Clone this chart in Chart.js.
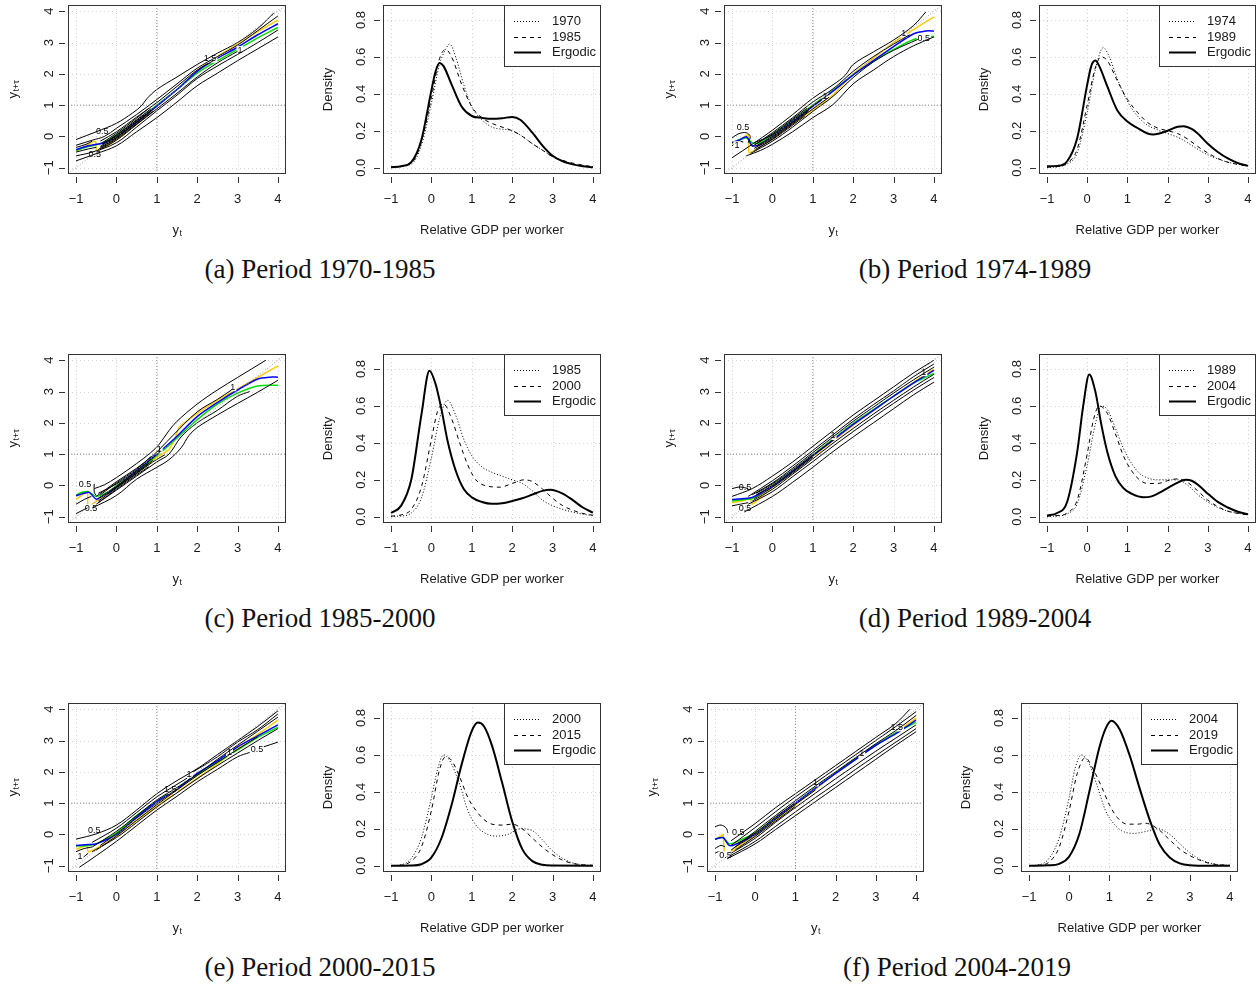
<!DOCTYPE html>
<html><head><meta charset="utf-8">
<script src="https://cdn.jsdelivr.net/npm/chart.js@4.4.1/dist/chart.umd.min.js"></script>
<style>
html,body{margin:0;padding:0;background:#fff;}
body{width:1258px;height:986px;position:relative;overflow:hidden;}
canvas{position:absolute;}
.cap{position:absolute;font-family:'Liberation Serif','Times New Roman',serif;font-size:27px;color:#111;white-space:nowrap;transform:translate(-50%,-50%);line-height:1;}
</style></head><body>
<script>
// ---------- tick values and labels ----------
const axisTicks = [-1, 0, 1, 2, 3, 4];
const axisTickLabels = ['\u22121', '0', '1', '2', '3', '4'];
const densTicks = [0, 0.2, 0.4, 0.6, 0.8];
const densTickLabels = ['0.0', '0.2', '0.4', '0.6', '0.8'];
const axisRange = [-1.2, 4.2];
const densRange = [-0.034, 0.881];
const refValue = 1;
const captions = ['(a) Period 1970-1985', '(b) Period 1974-1989', '(c) Period 1985-2000',
                  '(d) Period 1989-2004', '(e) Period 2000-2015', '(f) Period 2004-2019'];
const legendYears = [['1970', '1985'], ['1974', '1989'], ['1985', '2000'], ['1989', '2004'], ['2000', '2015'], ['2004', '2019']];
const ergodicLabel = 'Ergodic';

// ---------- density curves [x, density] ----------
const dA_start = [[-1,0.002],[-0.5,0.02],[-0.25,0.12],[0,0.35],[0.2,0.56],[0.35,0.64],[0.45,0.67],[0.6,0.6],[0.8,0.45],[1,0.33],[1.2,0.27],[1.5,0.22],[2,0.2],[2.25,0.17],[2.5,0.13],[2.75,0.095],[3,0.06],[3.5,0.02],[4,0.004]];
const dA_end = [[-1,0.003],[-0.5,0.025],[-0.25,0.14],[0,0.38],[0.2,0.59],[0.35,0.64],[0.5,0.6],[0.75,0.45],[1,0.33],[1.25,0.27],[1.5,0.24],[2,0.2],[2.25,0.17],[2.5,0.13],[2.75,0.095],[3,0.06],[3.5,0.025],[4,0.005]];
const dA_erg = [[-1,0.003],[-0.75,0.008],[-0.5,0.03],[-0.25,0.15],[0,0.42],[0.1,0.52],[0.2,0.567],[0.3,0.55],[0.5,0.45],[0.75,0.33],[1,0.28],[1.25,0.27],[1.5,0.265],[1.75,0.268],[2,0.275],[2.2,0.26],[2.5,0.19],[2.75,0.12],[3,0.065],[3.25,0.035],[3.5,0.018],[3.75,0.008],[4,0.003]];

const dB_start = [[-1,0.002],[-0.75,0.005],[-0.5,0.02],[-0.25,0.08],[0,0.3],[0.2,0.53],[0.4,0.65],[0.55,0.6],[0.75,0.48],[1,0.36],[1.25,0.28],[1.5,0.23],[1.75,0.205],[2,0.185],[2.25,0.165],[2.5,0.135],[2.75,0.1],[3,0.07],[3.5,0.03],[4,0.01]];
const dB_end = [[-1,0.003],[-0.75,0.006],[-0.5,0.025],[-0.25,0.1],[0,0.34],[0.2,0.54],[0.35,0.6],[0.5,0.58],[0.75,0.47],[1,0.37],[1.25,0.3],[1.5,0.245],[1.75,0.215],[2,0.2],[2.25,0.185],[2.5,0.155],[2.75,0.115],[3,0.08],[3.25,0.05],[3.5,0.03],[4,0.008]];
const dB_erg = [[-1,0.008],[-0.75,0.01],[-0.5,0.035],[-0.25,0.16],[0,0.45],[0.1,0.55],[0.2,0.58],[0.3,0.55],[0.5,0.44],[0.75,0.31],[1,0.25],[1.25,0.215],[1.5,0.185],[1.65,0.18],[2,0.2],[2.25,0.222],[2.4,0.225],[2.6,0.21],[2.75,0.185],[3,0.13],[3.25,0.085],[3.5,0.05],[3.75,0.025],[4,0.01]];

const dC_start = [[-1,0.002],[-0.75,0.004],[-0.5,0.02],[-0.25,0.1],[0,0.32],[0.2,0.53],[0.4,0.63],[0.6,0.55],[0.8,0.42],[1,0.33],[1.25,0.27],[1.5,0.24],[1.75,0.22],[2,0.2],[2.25,0.18],[2.5,0.14],[2.75,0.09],[3,0.06],[3.5,0.025],[4,0.005]];
const dC_end = [[-1,0.003],[-0.75,0.01],[-0.5,0.04],[-0.25,0.16],[0,0.42],[0.15,0.57],[0.3,0.61],[0.5,0.53],[0.7,0.4],[0.9,0.28],[1.1,0.2],[1.4,0.165],[1.7,0.16],[2,0.18],[2.3,0.2],[2.5,0.19],[2.75,0.15],[3,0.1],[3.25,0.06],[3.5,0.035],[3.75,0.018],[4,0.008]];
const dC_erg = [[-1,0.02],[-0.75,0.06],[-0.5,0.2],[-0.25,0.55],[-0.05,0.79],[0.1,0.72],[0.25,0.58],[0.4,0.41],[0.6,0.25],[0.8,0.15],[1,0.105],[1.25,0.08],[1.5,0.07],[1.75,0.073],[2,0.085],[2.25,0.1],[2.5,0.12],[2.75,0.14],[2.95,0.146],[3.25,0.125],[3.5,0.09],[3.75,0.05],[4,0.022]];

const dD_start = [[-1,0.002],[-0.75,0.004],[-0.5,0.015],[-0.25,0.07],[0,0.28],[0.2,0.5],[0.35,0.6],[0.5,0.58],[0.7,0.48],[0.9,0.37],[1.1,0.29],[1.3,0.235],[1.5,0.21],[1.75,0.2],[2,0.2],[2.25,0.2],[2.5,0.17],[2.75,0.12],[3,0.08],[3.25,0.05],[3.5,0.03],[4,0.01]];
const dD_end = [[-1,0.003],[-0.75,0.006],[-0.5,0.02],[-0.25,0.09],[0,0.34],[0.15,0.52],[0.3,0.6],[0.5,0.56],[0.7,0.45],[0.9,0.33],[1.1,0.25],[1.3,0.2],[1.5,0.18],[1.75,0.18],[2,0.195],[2.25,0.205],[2.5,0.185],[2.75,0.14],[3,0.09],[3.25,0.055],[3.5,0.03],[3.75,0.018],[4,0.01]];
const dD_erg = [[-1,0.006],[-0.75,0.02],[-0.5,0.08],[-0.25,0.35],[-0.1,0.6],[0.05,0.77],[0.2,0.68],[0.35,0.5],[0.5,0.35],[0.7,0.22],[0.9,0.155],[1.1,0.125],[1.4,0.105],[1.6,0.11],[1.8,0.13],[2,0.155],[2.25,0.185],[2.45,0.2],[2.6,0.195],[2.8,0.165],[3,0.125],[3.25,0.08],[3.5,0.05],[3.75,0.027],[4,0.013]];

const dE_start = [[-1,0.001],[-0.75,0.005],[-0.5,0.04],[-0.25,0.15],[0,0.37],[0.15,0.52],[0.3,0.6],[0.45,0.57],[0.7,0.44],[0.9,0.3],[1.1,0.22],[1.3,0.18],[1.6,0.16],[1.9,0.17],[2.2,0.2],[2.5,0.19],[2.75,0.14],[3,0.08],[3.25,0.04],[3.5,0.015],[3.75,0.005],[4,0.002]];
const dE_end = [[-1,0.001],[-0.75,0.003],[-0.5,0.025],[-0.25,0.1],[0,0.3],[0.2,0.52],[0.35,0.59],[0.5,0.57],[0.7,0.48],[0.9,0.37],[1.1,0.3],[1.3,0.25],[1.5,0.225],[1.75,0.22],[2,0.225],[2.25,0.2],[2.5,0.15],[2.75,0.1],[3,0.06],[3.25,0.03],[3.5,0.012],[3.75,0.005],[4,0.002]];
const dE_erg = [[-1,0],[-0.5,0.001],[-0.25,0.008],[0,0.045],[0.25,0.15],[0.5,0.33],[0.75,0.55],[1,0.73],[1.15,0.775],[1.3,0.755],[1.5,0.65],[1.75,0.45],[2,0.24],[2.25,0.09],[2.5,0.025],[2.75,0.005],[3,0.001],[4,0]];

const dF_start = [[-1,0.001],[-0.75,0.005],[-0.5,0.04],[-0.25,0.15],[0,0.37],[0.15,0.53],[0.3,0.6],[0.5,0.55],[0.7,0.43],[0.9,0.3],[1.1,0.23],[1.3,0.19],[1.6,0.175],[1.9,0.185],[2.2,0.2],[2.5,0.17],[2.75,0.12],[3,0.07],[3.25,0.035],[3.5,0.015],[3.75,0.005],[4,0.002]];
const dF_end = [[-1,0.001],[-0.75,0.003],[-0.5,0.02],[-0.25,0.1],[0,0.3],[0.2,0.5],[0.4,0.585],[0.6,0.52],[0.8,0.43],[1,0.33],[1.2,0.26],[1.45,0.225],[1.7,0.225],[1.9,0.23],[2.2,0.2],[2.5,0.14],[2.75,0.09],[3,0.055],[3.25,0.03],[3.5,0.012],[3.75,0.005],[4,0.002]];
const dF_erg = [[-1,0],[-0.5,0.002],[-0.25,0.01],[0,0.05],[0.25,0.17],[0.5,0.4],[0.75,0.64],[0.9,0.74],[1.05,0.785],[1.25,0.74],[1.5,0.6],[1.75,0.42],[2,0.25],[2.25,0.115],[2.5,0.045],[2.75,0.013],[3,0.003],[3.5,0],[4,0]];

// ---------- contour plots: [y_t, y_t+tau] ----------
const cA_blue = [[-1,-0.42],[-0.7,-0.3],[-0.5,-0.25],[-0.3,-0.2],[0,0.0],[0.5,0.45],[1,0.97],[1.5,1.5],[2,2.08],[2.5,2.5],[3,2.85],[3.5,3.25],[4,3.6]];
const cA_green = [[-1,-0.45],[-0.7,-0.32],[-0.5,-0.27],[-0.3,-0.18],[0,0.05],[0.5,0.5],[1,1.0],[1.5,1.5],[2,2.02],[2.5,2.42],[3,2.78],[3.5,3.15],[4,3.48]];
const cA_yellow = [[-1,-0.47],[-0.75,-0.3],[-0.52,-0.15],[-0.49,-0.47],[-0.3,-0.35],[0,-0.1],[0.5,0.4],[1,0.97],[1.5,1.5],[2,2.1],[2.5,2.55],[3,2.95],[3.5,3.35],[4,3.72]];
const cA_black = [
 [[-1,-0.1],[-0.5,0.15],[0,0.42],[0.4,0.75],[0.62,0.98],[0.75,1.2],[1,1.5],[1.5,1.9],[2,2.3],[2.5,2.66],[3,3.0],[3.5,3.45],[3.9,3.95]],
 [[-1,-0.78],[-0.5,-0.55],[0,-0.3],[0.5,0.15],[1,0.6],[1.5,1.1],[2,1.62],[2.5,2.02],[3,2.42],[3.5,2.8],[4,3.18]],
 [[-1,-0.28],[-0.6,-0.12],[-0.3,0.0],[0,0.26],[0.5,0.7],[1,1.18],[1.5,1.68],[2,2.18],[2.5,2.55],[3,2.92],[3.5,3.38],[4,3.85]],
 [[-1,-0.62],[-0.6,-0.5],[0,-0.2],[0.5,0.3],[1,0.82],[1.5,1.32],[2,1.85],[2.5,2.25],[3,2.62],[3.5,3.0],[4,3.4]],
 [[-0.4,-0.15],[0,0.15],[0.5,0.62],[1,1.08],[1.5,1.6],[2,2.12],[2.4,2.42]],
 [[-0.45,-0.45],[0,-0.12],[0.5,0.38],[1,0.88],[1.5,1.38],[2,1.9],[2.5,2.35],[3,2.72]],
 [[-0.4,-0.35],[0,-0.05],[0.5,0.45],[0.85,0.8]],
 [[-0.35,-0.25],[0,0.05],[0.5,0.53],[0.85,0.88]],
 [[-0.3,-0.28],[0,0.0],[0.4,0.42],[0.7,0.7]],
 [[-0.45,-0.42],[0,-0.08],[0.5,0.4],[0.9,0.8]],
 [[-0.4,-0.32],[0,0.02],[0.5,0.5],[0.9,0.88]],
 [[-0.35,-0.2],[0,0.1],[0.5,0.58],[0.8,0.9]],
 [[-0.42,-0.4],[0,-0.03],[0.5,0.48],[0.75,0.7]],
 [[-1,-0.35],[-0.75,-0.25],[-0.6,-0.15]],
 [[-1,-0.5],[-0.7,-0.4],[-0.5,-0.35]]
];
const cA_labels = [[-0.35,0.17,'0.5'],[-0.54,-0.58,'0.5'],[2.32,2.48,'1.5'],[3.06,2.76,'1']];

const cB_blue = [[-1,-0.2],[-0.8,-0.1],[-0.64,-0.01],[-0.5,-0.3],[-0.3,-0.26],[0,0.0],[0.5,0.48],[1,0.96],[1.5,1.45],[2,1.97],[2.5,2.42],[3,2.87],[3.5,3.28],[3.8,3.37],[4,3.37]];
const cB_green = [[-1,-0.2],[-0.8,-0.1],[-0.64,-0.05],[-0.5,-0.2],[-0.3,-0.2],[0,0.05],[0.5,0.52],[1,1.0],[1.5,1.48],[2,1.97],[2.5,2.4],[3,2.78],[3.5,3.1],[4,3.2]];
const cB_yellow = [[-1,-0.25],[-0.8,-0.1],[-0.6,0.05],[-0.58,-0.52],[-0.4,-0.4],[0,-0.05],[0.5,0.4],[1,0.85],[1.5,1.32],[2,2.0],[2.5,2.5],[3,3.0],[3.5,3.42],[4,3.82]];
const cB_black = [
 [[-1,-0.68],[-0.5,-0.25],[0,0.2],[0.5,0.7],[1,1.22],[1.5,1.65],[1.8,1.95],[2,2.3],[2.5,2.7],[3,3.08],[3.5,3.55],[3.8,3.98]],
 [[-0.65,-0.62],[-0.3,-0.45],[0,-0.25],[0.5,0.15],[1,0.6],[1.5,1.02],[2,1.68],[2.5,2.12],[3,2.55],[3.5,2.9],[4,3.18]],
 [[-0.5,-0.32],[0,0.12],[0.5,0.6],[1,1.1],[1.5,1.52],[2,2.08],[2.5,2.55],[3,2.95],[3.4,3.25]],
 [[-0.55,-0.55],[0,-0.15],[0.5,0.3],[1,0.8],[1.5,1.28],[2,1.88],[2.5,2.38],[3,2.75],[3.6,3.1]],
 [[-0.45,-0.2],[0,0.05],[0.5,0.52],[1,0.98],[1.4,1.35]],
 [[-0.45,-0.45],[0,-0.08],[0.5,0.4],[1,0.88],[1.4,1.25]],
 [[-0.4,-0.3],[0,0.0],[0.5,0.46],[0.9,0.85]],
 [[-0.45,-0.38],[0,-0.04],[0.5,0.43],[0.9,0.82]],
 [[-0.42,-0.25],[0,0.08],[0.5,0.56],[0.85,0.9]],
 [[-0.4,-0.4],[0,-0.1],[0.5,0.36],[0.8,0.65]],
 [[-1,-0.05],[-0.85,0.08],[-0.65,0.12],[-0.55,0.0],[-0.6,-0.2]],
 [[-1,-0.3],[-0.85,-0.15],[-0.72,-0.18]]
];
const cB_labels = [[-0.73,0.27,'0.5'],[-0.88,-0.28,'1'],[3.25,3.29,'1'],[3.75,3.13,'0.5'],[1.3,1.28,'1']];

const cC_blue = [[-1,-0.33],[-0.8,-0.25],[-0.67,-0.22],[-0.5,-0.44],[-0.3,-0.3],[-0.17,-0.22],[0,-0.05],[0.5,0.48],[1,1.0],[1.4,1.45],[2,2.2],[2.5,2.65],[3,3.05],[3.5,3.4],[3.8,3.46],[4,3.46]];
const cC_green = [[-1,-0.3],[-0.85,-0.22],[-0.7,-0.2],[-0.5,-0.35],[-0.2,-0.2],[0,0.0],[0.5,0.45],[1,0.95],[1.4,1.4],[2,2.1],[2.5,2.6],[3,2.95],[3.5,3.18],[4,3.2]];
const cC_yellow = [[-1,-0.45],[-0.85,-0.3],[-0.72,-0.2],[-0.7,-0.7],[-0.5,-0.5],[0,-0.05],[0.5,0.4],[1,0.9],[1.3,1.15],[1.45,1.5],[1.55,1.85],[2,2.3],[2.5,2.72],[3,3.08],[3.5,3.45],[4,3.82]];
const cC_black = [
 [[-0.55,-0.1],[-0.3,0.02],[0,0.25],[0.5,0.7],[0.85,1.05],[1.05,1.3],[1.3,1.75],[1.5,2.05],[2,2.6],[2.5,3.05],[3,3.45],[3.7,4.0]],
 [[-0.6,-0.72],[0,-0.32],[0.5,0.2],[1,0.58],[1.3,0.82],[1.6,1.2],[1.8,1.6],[2,1.85],[2.5,2.25],[3,2.62],[3.5,2.98],[4,3.36]],
 [[-0.5,-0.35],[0,0.12],[0.5,0.55],[0.9,0.95],[1.1,1.2],[1.4,1.6],[2,2.35],[2.5,2.75],[2.85,3.05]],
 [[-0.5,-0.6],[0,-0.15],[0.5,0.3],[1,0.75],[1.3,1.0],[1.6,1.55],[2,2.0],[2.5,2.4],[3,2.85],[3.3,3.0]],
 [[-0.45,-0.25],[0,0.05],[0.5,0.48],[0.9,0.88],[1.1,1.1]],
 [[-0.45,-0.5],[0,-0.08],[0.5,0.38],[0.9,0.75],[1.2,0.98]],
 [[-0.4,-0.38],[0,-0.02],[0.5,0.43],[0.8,0.72]],
 [[-0.45,-0.42],[0,-0.05],[0.5,0.4],[0.9,0.8]],
 [[-0.4,-0.3],[0,0.08],[0.5,0.52],[0.85,0.92]],
 [[-0.45,-0.55],[0,-0.12],[0.5,0.34],[0.8,0.6]],
 [[-1,-0.6],[-0.8,-0.45],[-0.62,-0.35]],
 [[-1,-0.9],[-0.85,-0.8],[-0.72,-0.72]],
 [[-0.55,0.05],[-0.55,-0.22],[-0.5,-0.32]]
];
const cC_labels = [[-0.78,0.04,'0.5'],[-0.63,-0.73,'0.5'],[1.06,1.15,'1'],[2.88,3.14,'1']];

const cD_blue = [[-1,-0.45],[-0.7,-0.42],[-0.5,-0.38],[0,-0.02],[0.5,0.45],[1,0.95],[1.5,1.45],[2,1.95],[2.5,2.4],[3,2.85],[3.5,3.28],[4,3.68]];
const cD_green = [[-1,-0.5],[-0.7,-0.45],[-0.5,-0.42],[0,0.0],[0.5,0.48],[1,0.98],[1.5,1.48],[2,1.98],[2.5,2.42],[3,2.85],[3.5,3.28],[4,3.58]];
const cD_yellow = [[-1,-0.55],[-0.7,-0.48],[-0.55,-0.4],[-0.5,-0.6],[0,-0.05],[0.5,0.42],[1,0.92],[1.5,1.42],[2,1.92],[2.5,2.4],[3,2.85],[3.5,3.3],[4,3.72]];
const cD_black = [
 [[-1,-0.35],[-0.5,-0.1],[0,0.3],[0.5,0.75],[1,1.25],[1.5,1.75],[2,2.25],[2.5,2.7],[3,3.15],[3.5,3.6],[4,4.0]],
 [[-0.7,-0.85],[0,-0.35],[0.5,0.1],[1,0.58],[1.5,1.08],[2,1.55],[2.5,2.0],[3,2.45],[3.5,2.9],[4,3.3]],
 [[-0.6,-0.35],[0,0.15],[0.5,0.62],[1,1.12],[1.5,1.62],[2,2.12],[2.5,2.58],[3,3.02],[3.5,3.48],[4,3.88]],
 [[-0.6,-0.6],[0,-0.2],[0.5,0.28],[1,0.76],[1.5,1.25],[2,1.72],[2.5,2.18],[3,2.62],[3.5,3.05],[4,3.45]],
 [[-0.5,-0.3],[0,0.08],[0.5,0.55],[1,1.05],[1.5,1.55],[2,2.05],[2.5,2.5],[3,2.95],[3.5,3.38],[4,3.78]],
 [[-0.5,-0.5],[0,-0.12],[0.5,0.36],[1,0.85],[1.5,1.35],[2,1.82],[2.5,2.28],[3,2.72],[3.5,3.15],[4,3.55]],
 [[-0.4,-0.3],[0,0.0],[0.5,0.45],[1,0.95],[1.5,1.45]],
 [[-0.45,-0.42],[0,-0.06],[0.5,0.4],[1,0.9]],
 [[-0.4,-0.25],[0,0.05],[0.5,0.5],[1,1.0]],
 [[-1,-0.1],[-0.8,-0.05],[-0.6,-0.1]],
 [[-1,-0.65],[-0.8,-0.6],[-0.6,-0.55]]
];
const cD_labels = [[-0.68,-0.08,'0.5'],[-0.68,-0.75,'0.5'],[1.5,1.58,'1'],[3.75,3.62,'1']];

const cE_blue = [[-1,-0.35],[-0.7,-0.32],[-0.5,-0.3],[0,0.0],[0.5,0.55],[1,1.05],[1.5,1.45],[2,1.95],[2.5,2.35],[3,2.8],[3.5,3.15],[4,3.5]];
const cE_green = [[-1,-0.37],[-0.7,-0.35],[-0.5,-0.3],[0,0.05],[0.5,0.6],[1,1.05],[1.5,1.48],[2,1.9],[2.5,2.3],[3,2.7],[3.5,3.1],[4,3.42]];
const cE_yellow = [[-1,-0.47],[-0.8,-0.38],[-0.72,-0.32],[-0.7,-0.55],[-0.5,-0.45],[0,-0.05],[0.5,0.45],[1,0.9],[1.5,1.35],[2,1.8],[2.5,2.25],[3,2.75],[3.5,3.2],[4,3.65]];
const cE_black = [
 [[-1,-0.15],[-0.5,0.02],[0,0.3],[0.5,0.78],[1,1.3],[1.5,1.72],[2,2.1],[2.5,2.55],[3,3.0],[3.5,3.45],[4,3.95]],
 [[-0.92,-1.05],[-0.5,-0.68],[0,-0.22],[0.5,0.28],[1,0.78],[1.5,1.22],[2,1.68],[2.5,2.08],[3,2.48],[3.3,2.62]],
 [[3.65,2.8],[4,2.95]],
 [[-0.6,-0.25],[0,0.2],[0.5,0.7],[1,1.2],[1.5,1.6],[1.75,1.8]],
 [[1.9,2.0],[2.5,2.48],[3,2.95],[3.5,3.35],[4,3.85]],
 [[-0.6,-0.4],[0,0.1],[0.5,0.6],[1,1.1],[1.5,1.5],[2,1.92],[2.5,2.4],[3,2.85],[3.5,3.3],[4,3.75]],
 [[-0.6,-0.55],[0,-0.1],[0.5,0.38],[1,0.88],[1.5,1.33],[2,1.78],[2.5,2.2],[3,2.6],[3.5,3.0],[4,3.38]],
 [[-0.5,-0.5],[0,-0.05],[0.5,0.45],[1,0.95],[1.5,1.42],[2,1.88],[2.5,2.3],[3,2.72],[3.5,3.12]],
 [[-0.4,-0.35],[0,0.02],[0.5,0.52],[1,1.0],[1.5,1.45]],
 [[-1,-0.55],[-0.8,-0.45],[-0.6,-0.4]],
 [[-1,-0.8],[-0.85,-0.75],[-0.7,-0.6]]
];
const cE_labels = [[-0.55,0.13,'0.5'],[3.48,2.7,'0.5'],[1.8,1.93,'1'],[1.33,1.42,'1.5'],[2.8,2.62,'1'],[-0.9,-0.72,'1']];

const cF_blue = [[-1,-0.15],[-0.8,-0.1],[-0.65,-0.35],[-0.5,-0.32],[0,0.0],[0.5,0.5],[1,1.0],[1.5,1.48],[2,1.95],[2.5,2.4],[3,2.85],[3.5,3.22],[4,3.65]];
const cF_green = [[-1,-0.15],[-0.8,-0.1],[-0.65,-0.3],[-0.5,-0.25],[0,0.05],[0.5,0.52],[1,1.0],[1.5,1.5],[2,1.97],[2.5,2.42],[3,2.85],[3.5,3.25],[4,3.58]];
const cF_yellow = [[-1,-0.15],[-0.85,-0.05],[-0.8,0.0],[-0.75,-0.65],[-0.5,-0.45],[0,-0.05],[0.5,0.45],[1,0.95],[1.5,1.45],[2,1.95],[2.5,2.4],[3,2.85],[3.5,3.25],[4,3.72]];
const cF_black = [
 [[-0.6,-0.2],[0,0.35],[0.5,0.85],[1,1.3],[1.5,1.75],[2,2.2],[2.5,2.65],[3,3.1],[3.5,3.55],[3.85,4.0]],
 [[-0.6,-0.35],[0,0.22],[0.5,0.72],[1,1.2],[1.5,1.65],[2,2.1],[2.5,2.55],[3,3.0],[3.5,3.45],[4,3.92]],
 [[-0.6,-0.5],[0,0.1],[0.5,0.6],[1,1.08],[1.5,1.55],[2,2.0],[2.5,2.45],[3,2.9],[3.5,3.32],[4,3.8]],
 [[-0.6,-0.6],[0,-0.12],[0.5,0.38],[1,0.86],[1.5,1.32],[2,1.78],[2.5,2.22],[3,2.66],[3.5,3.08],[4,3.5]],
 [[-0.65,-0.7],[0,-0.22],[0.5,0.25],[1,0.72],[1.5,1.18],[2,1.62],[2.5,2.08],[3,2.52],[3.5,2.95],[4,3.38]],
 [[-0.7,-0.78],[0,-0.3],[0.5,0.15],[1,0.6],[1.5,1.05],[2,1.5],[2.5,1.95],[3,2.4],[3.5,2.85],[4,3.28]],
 [[-0.5,-0.4],[0,0.0],[0.5,0.48],[1,0.96],[1.5,1.42]],
 [[-0.5,-0.5],[0,-0.06],[0.5,0.42],[1,0.9]],
 [[-0.45,-0.3],[0,0.05],[0.5,0.55],[1,1.02]],
 [[-1,0.25],[-0.85,0.3],[-0.72,0.2],[-0.68,0.05]],
 [[-1,-0.45],[-0.85,-0.35],[-0.75,-0.4]],
 [[-1,-0.6],[-0.9,-0.55],[-0.82,-0.62]]
];
const cF_labels = [[-0.42,0.07,'0.5'],[-0.74,-0.67,'0.5'],[1.5,1.66,'1'],[2.65,2.57,'1'],[3.52,3.42,'1.5']];

// ---------- layout (positions only) ----------
const rowTop = [5, 354, 703];
const boxH = 169;
const panelLayout = [
  {cBox: [68, 286], dBox: [383, 601], capX: 320},
  {cBox: [724, 942], dBox: [1039, 1256], capX: 975},
  {cBox: [68, 286], dBox: [383, 601], capX: 320},
  {cBox: [724, 942], dBox: [1039, 1256], capX: 975},
  {cBox: [68, 286], dBox: [383, 601], capX: 320},
  {cBox: [707, 924], dBox: [1021, 1238], capX: 957}
];

const FONT = "'Liberation Sans', Arial, Helvetica, sans-serif";

function drawTitle(ctx, t, cx, cy, rot) {
  ctx.save();
  ctx.translate(cx, cy); ctx.rotate(rot);
  ctx.font = '13px ' + FONT;
  const wm = ctx.measureText(t.main).width;
  let ws = 0;
  if (t.sub) { ctx.font = '9px ' + FONT; ws = ctx.measureText(t.sub).width; }
  const x0 = -(wm + ws) / 2;
  ctx.textAlign = 'left'; ctx.textBaseline = 'middle';
  ctx.font = '13px ' + FONT; ctx.fillText(t.main, x0, 0);
  if (t.sub) { ctx.font = '9px ' + FONT; ctx.fillText(t.sub, x0 + wm + 0.5, 4); }
  ctx.restore();
}

function drawLegend(chart, a) {
  const ctx = chart.ctx;
  const items = chart.data.datasets.filter(d => d.label);
  const bw = 97, bh = 62, bx = a.right - bw, by = a.top;
  ctx.save();
  ctx.fillStyle = '#fff'; ctx.fillRect(bx, by, bw, bh);
  ctx.strokeStyle = '#333'; ctx.lineWidth = 1; ctx.setLineDash([]);
  ctx.strokeRect(bx + 0.5, by + 0.5, bw - 1, bh - 1);
  items.forEach((d, i) => {
    const ry = Math.round(by + 16 + i * 15.5) + 0.5;
    ctx.beginPath();
    ctx.setLineDash(d.borderDash || []);
    ctx.lineWidth = d.borderWidth; ctx.strokeStyle = d.borderColor;
    ctx.moveTo(bx + 10, ry); ctx.lineTo(bx + 37, ry); ctx.stroke();
    ctx.setLineDash([]);
    ctx.fillStyle = '#1a1a1a'; ctx.font = '13px ' + FONT;
    ctx.textAlign = 'left'; ctx.textBaseline = 'middle';
    ctx.fillText(d.label, bx + 48, ry);
  });
  ctx.restore();
}

const rAxes = {
  id: 'rAxes',
  beforeDatasetsDraw(chart, _a, o) {
    const {ctx, chartArea: a, scales: {x, y}} = chart;
    ctx.save();
    ctx.strokeStyle = '#d3d3d3'; ctx.lineWidth = 1; ctx.setLineDash([1, 3]);
    ctx.beginPath();
    o.xTicks.forEach(v => { const p = Math.round(x.getPixelForValue(v)) + 0.5; ctx.moveTo(p, a.top); ctx.lineTo(p, a.bottom); });
    o.yTicks.forEach(v => { const p = Math.round(y.getPixelForValue(v)) + 0.5; ctx.moveTo(a.left, p); ctx.lineTo(a.right, p); });
    ctx.stroke();
    ctx.restore();
  },
  afterDatasetDraw(chart, args, o) {
    if (!o.labels || args.index !== o.labelAfter) return;
    const {ctx, scales: {x, y}} = chart;
    ctx.save();
    ctx.font = '9px ' + FONT; ctx.textAlign = 'center'; ctx.textBaseline = 'middle';
    o.labels.forEach(([vx, vy, t]) => {
      const px = x.getPixelForValue(vx), py = y.getPixelForValue(vy);
      const w = ctx.measureText(t).width;
      ctx.fillStyle = '#fff'; ctx.fillRect(px - w / 2 - 1, py - 4, w + 2, 8);
      ctx.fillStyle = '#000'; ctx.fillText(t, px, py);
    });
    ctx.restore();
  },
  afterDatasetsDraw(chart, _a, o) {
    const {ctx, chartArea: a, scales: {x, y}} = chart;
    ctx.save();
    ctx.setLineDash([]);
    ctx.strokeStyle = '#333'; ctx.lineWidth = 1;
    ctx.strokeRect(a.left + 0.5, a.top + 0.5, a.right - a.left - 1, a.bottom - a.top - 1);
    ctx.beginPath();
    o.xTicks.forEach(v => { const p = Math.round(x.getPixelForValue(v)) + 0.5; ctx.moveTo(p, a.bottom + 3); ctx.lineTo(p, a.bottom + 9); });
    o.yTicks.forEach(v => { const p = Math.round(y.getPixelForValue(v)) + 0.5; ctx.moveTo(a.left - 3, p); ctx.lineTo(a.left - 9, p); });
    ctx.stroke();
    ctx.fillStyle = '#1a1a1a'; ctx.font = '13px ' + FONT;
    ctx.textAlign = 'center'; ctx.textBaseline = 'middle';
    o.xTicks.forEach((v, i) => ctx.fillText(o.xLabels[i], x.getPixelForValue(v), a.bottom + 25));
    o.yTicks.forEach((v, i) => {
      ctx.save(); ctx.translate(a.left - o.yLabOff, y.getPixelForValue(v)); ctx.rotate(-Math.PI / 2);
      ctx.fillText(o.yLabels[i], 0, 0); ctx.restore();
    });
    drawTitle(ctx, o.xTitle, (a.left + a.right) / 2, a.bottom + 56, 0);
    drawTitle(ctx, o.yTitle, a.left - 55, (a.top + a.bottom) / 2, -Math.PI / 2);
    ctx.restore();
    if (o.legend) drawLegend(chart, a);
  }
};

function lineDS(pts, color, width, dash, opts) {
  return Object.assign({
    data: pts.map(p => ({x: p[0], y: p[1]})),
    borderColor: color, borderWidth: width, borderDash: dash,
    fill: false, pointRadius: 0, pointHoverRadius: 0, tension: 0
  }, opts || {});
}

function makeChart(box, top, datasets, xr, yr, axOpts) {
  const mL = 72, mT = 5, mR = 2, mB = 72;
  const w = box[1] - box[0];
  const W = w + mL + mR, H = boxH + mT + mB;
  const cv = document.createElement('canvas');
  cv.width = W; cv.height = H;
  cv.style.left = (box[0] - mL) + 'px'; cv.style.top = (top - mT) + 'px';
  cv.style.width = W + 'px'; cv.style.height = H + 'px';
  document.body.appendChild(cv);
  return new Chart(cv, {
    type: 'line',
    data: {datasets},
    options: {
      responsive: false, animation: false, devicePixelRatio: 1,
      layout: {padding: {left: mL, top: mT, right: mR, bottom: mB}},
      scales: {
        x: {type: 'linear', min: xr[0], max: xr[1], display: false},
        y: {type: 'linear', min: yr[0], max: yr[1], display: false}
      },
      plugins: {legend: {display: false}, tooltip: {enabled: false}, rAxes: axOpts},
      events: []
    },
    plugins: [rAxes]
  });
}

const contourSets = [
  [cA_black, cA_blue, cA_green, cA_yellow, cA_labels],
  [cB_black, cB_blue, cB_green, cB_yellow, cB_labels],
  [cC_black, cC_blue, cC_green, cC_yellow, cC_labels],
  [cD_black, cD_blue, cD_green, cD_yellow, cD_labels],
  [cE_black, cE_blue, cE_green, cE_yellow, cE_labels],
  [cF_black, cF_blue, cF_green, cF_yellow, cF_labels]
];
const densitySets = [
  [dA_start, dA_end, dA_erg], [dB_start, dB_end, dB_erg], [dC_start, dC_end, dC_erg],
  [dD_start, dD_end, dD_erg], [dE_start, dE_end, dE_erg], [dF_start, dF_end, dF_erg]
];

panelLayout.forEach((L, i) => {
  const top = rowTop[Math.floor(i / 2)];
  const [black, blue, green, yellow, labels] = contourSets[i];
  const lo = axisRange[0], hi = axisRange[1];
  const cds = [
    lineDS([[lo, lo], [hi, hi]], '#9a9a9a', 1, [1, 2]),
    lineDS([[refValue, lo], [refValue, hi]], '#8c8c8c', 1, [1, 2]),
    lineDS([[lo, refValue], [hi, refValue]], '#8c8c8c', 1, [1, 2])
  ];
  black.forEach(l => cds.push(lineDS(l, '#000', 1, [], {tension: 0.35})));
  const labelAfter = cds.length - 1;
  cds.push(lineDS(blue, '#0000ff', 1.5, [], {tension: 0.25}));
  cds.push(lineDS(green, '#00dd00', 1.5, [], {tension: 0.25}));
  cds.push(lineDS(yellow, '#ffcc00', 1.5, [], {tension: 0.2}));
  makeChart(L.cBox, top, cds, axisRange, axisRange, {
    xTicks: axisTicks, xLabels: axisTickLabels, yTicks: axisTicks, yLabels: axisTickLabels,
    yLabOff: 19, xTitle: {main: 'y', sub: 't'}, yTitle: {main: 'y', sub: 't+\u03c4'},
    labels, labelAfter
  });

  const [ds0, ds1, dse] = densitySets[i];
  const dds = [
    lineDS(ds0, '#000', 1, [1, 2], {label: legendYears[i][0], cubicInterpolationMode: 'monotone'}),
    lineDS(ds1, '#000', 1, [4, 4], {label: legendYears[i][1], cubicInterpolationMode: 'monotone'}),
    lineDS(dse, '#000', 2, [], {label: ergodicLabel, cubicInterpolationMode: 'monotone'})
  ];
  makeChart(L.dBox, top, dds, axisRange, densRange, {
    xTicks: axisTicks, xLabels: axisTickLabels, yTicks: densTicks, yLabels: densTickLabels,
    yLabOff: 22, xTitle: {main: 'Relative GDP per worker'}, yTitle: {main: 'Density'}, legend: true
  });

  const cap = document.createElement('div');
  cap.className = 'cap';
  cap.textContent = captions[i];
  cap.style.left = L.capX + 'px';
  cap.style.top = (top + 264) + 'px';
  document.body.appendChild(cap);
});
</script>
</body></html>
